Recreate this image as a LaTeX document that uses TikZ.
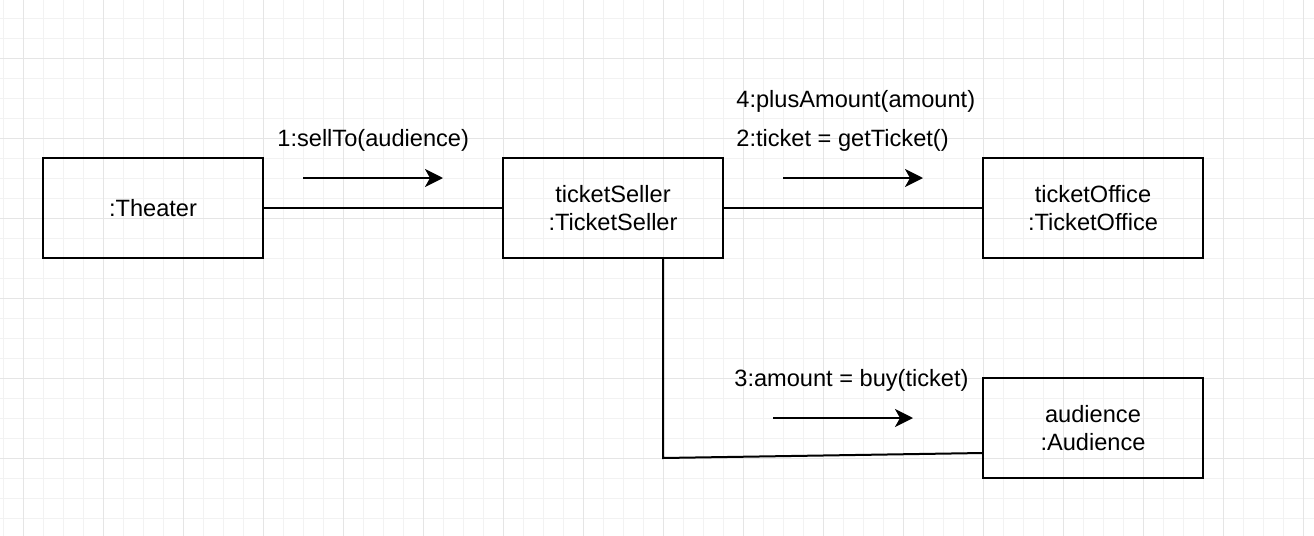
\documentclass[tikz,border=0pt]{standalone}
\usepackage{fontspec}
\setmainfont{Liberation Sans}
\usetikzlibrary{
    arrows.meta,
    positioning
}
\tikzset{
    % Colors
    grid minor/.style={line width=0.5pt, color=black!5},
    grid major/.style={line width=0.5pt, color=black!10},
    %
    % Objects and links
    object/.style={draw, line width=1pt, minimum width=110pt, minimum height=50pt,
        inner sep=0pt, outer sep=0pt, align=center},
    link/.style={line width=1pt},
    message/.style={anchor=base west, inner sep=0pt},
    %
    % Arrows
    arrow tip/.tip={Stealth[length=9pt,width=9pt,inset=2.5pt]},
    arr/.style={-{arrow tip}, line width=1pt}
}
\tikzstyle{every node}=[font=\fontsize{11.8}{14}\selectfont]

\begin{document}
\begin{tikzpicture}[x=0.5pt,y=-0.5pt]
        \useasboundingbox (0,0) rectangle (1314,536);
        % background grid
        \foreach \x in {3,23,...,1313}{
            \draw[grid minor] (\x,0) -- (\x,536);
        }
        \foreach \y in {18,38,...,535}{
            \draw[grid minor] (0,\y) -- (1314,\y);
        }
        \foreach \x in {23,103,...,1313}{
            \draw[grid major] (\x,0) -- (\x,536);
        }
        \foreach \y in {58,138,...,535}{
            \draw[grid major] (0,\y) -- (1314,\y);
        }
        % objects
        \node[object] (theater) at (153,208) {:Theater};
        \node[object,right=120pt of theater] (seller) {ticketSeller\\:TicketSeller};
        \node[object,right=130pt of seller] (office) {ticketOffice\\:TicketOffice};
        \node[object,below=60pt of office] (audience) {audience\\:Audience};
        % links
        \draw[link] (theater) -- (seller);
        \draw[link] (seller) -- (office);
        \coordinate (corner) at (663,458);
        \draw[link] (seller.south -| corner) -- (corner) -- ([yshift=-12.5pt]audience.west);
        % messages
        \coordinate (sell from) at (303,178);
        \coordinate (sell to) at (443,178);
        \draw[arr] (sell from) -- (sell to);
        \node[message] (sell label) at (277,146) {1:sellTo(audience)};
        \coordinate (get from) at (783,178);
        \coordinate (get to) at (923,178);
        \draw[arr] (get from) -- (get to);
        \node[message] (plus label) at (736,107) {4:plusAmount(amount)};
        \node[message] (get label) at (736,146) {2:ticket = getTicket()};
        \coordinate (buy from) at (773,418);
        \coordinate (buy to) at (913,418);
        \draw[arr] (buy from) -- (buy to);
        \node[message] (buy label) at (734,386) {3:amount = buy(ticket)};
    \end{tikzpicture}
\end{document}
